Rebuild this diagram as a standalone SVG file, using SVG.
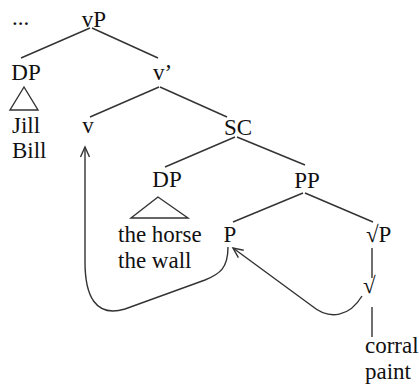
<svg xmlns="http://www.w3.org/2000/svg" width="419" height="388" viewBox="0 0 419 388">
  <style>
    .lbl { font-family: 'Liberation Serif', 'DejaVu Serif', serif; font-size: 23px; fill: #111; }
    .edge { stroke: #333; stroke-width: 1.4; fill: none; }
    .mov { stroke: #333; stroke-width: 1.4; fill: none; marker-end: url(#open); }
  </style>
  <defs>
    <marker id="open" viewBox="-12 -6 14 12" markerWidth="14" markerHeight="12" refX="0" refY="0" orient="auto" markerUnits="userSpaceOnUse">
      <path d="M -10,-4.5 L 0,0 L -10,4.5" fill="none" stroke="#333" stroke-width="1.4"/>
    </marker>
  </defs>
  <rect width="419" height="388" fill="#fff"/>

  <!-- tree branches -->
  <g id="connectors">
    <line class="edge" x1="90" y1="28" x2="21" y2="58"/>
    <line class="edge" x1="92" y1="28" x2="158" y2="58"/>
    <line class="edge" x1="159" y1="87" x2="90" y2="117"/>
    <line class="edge" x1="160" y1="87" x2="227" y2="117"/>
    <line class="edge" x1="235" y1="137" x2="165" y2="167"/>
    <line class="edge" x1="237" y1="137" x2="305" y2="165"/>
    <line class="edge" x1="303" y1="193" x2="233" y2="222"/>
    <line class="edge" x1="305" y1="193" x2="373" y2="222"/>
    <line class="edge" x1="372" y1="248" x2="372" y2="278"/>
    <line class="edge" x1="372" y1="307" x2="372" y2="337"/>
    <polygon class="edge" points="24,87 10,110 38,110"/>
    <polygon class="edge" points="158,197 131,218 188,218"/>
    <!-- movement arrows -->
    <path class="mov" d="M 228,247 C 228,268 220,274 205,280 L 125,309 C 95,318 85,295 85,262 L 85,147"/>
    <path class="mov" d="M 362,296 C 350,316 330,321 312,306 L 233,248"/>
  </g>

  <g id="dots"><text class="lbl" x="12" y="25">...</text></g>
  <g id="vP"><text class="lbl" x="94" y="27" text-anchor="middle">vP</text></g>
  <g id="DP1"><text class="lbl" x="26" y="80" text-anchor="middle">DP</text></g>
  <g id="vbar"><text class="lbl" x="153" y="80">v’</text></g>
  <g id="names"><text class="lbl" x="12" y="133">Jill</text><text class="lbl" x="12" y="158">Bill</text></g>
  <g id="v"><text class="lbl" x="88" y="133" text-anchor="middle">v</text></g>
  <g id="SC"><text class="lbl" x="238" y="135" text-anchor="middle">SC</text></g>
  <g id="DP2"><text class="lbl" x="167" y="187" text-anchor="middle">DP</text></g>
  <g id="PP"><text class="lbl" x="307" y="188" text-anchor="middle">PP</text></g>
  <g id="objects"><text class="lbl" x="118" y="242">the horse</text><text class="lbl" x="118" y="268">the wall</text></g>
  <g id="P"><text class="lbl" x="230" y="242" text-anchor="middle">P</text></g>
  <g id="rootP"><text class="lbl" x="366" y="242">√P</text></g>
  <g id="root"><text class="lbl" x="363" y="293">√</text></g>
  <g id="verbs"><text class="lbl" x="365" y="353">corral</text><text class="lbl" x="365" y="379">paint</text></g>
</svg>
